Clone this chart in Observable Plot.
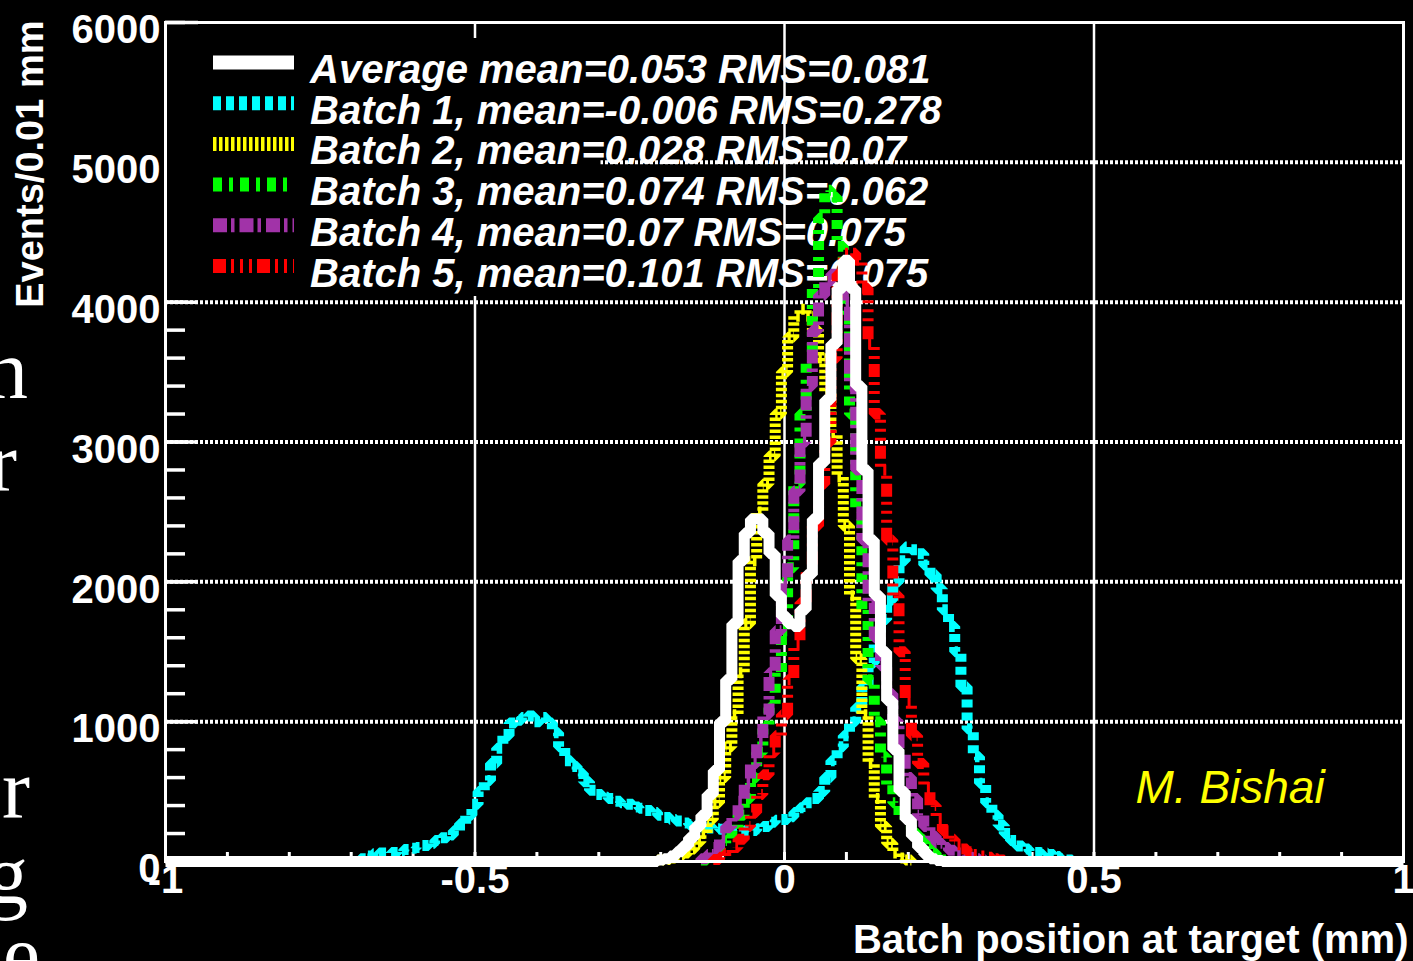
<!DOCTYPE html>
<html>
<head>
<meta charset="utf-8">
<script src="https://cdn.jsdelivr.net/npm/d3@7"></script>
<script src="https://cdn.jsdelivr.net/npm/@observablehq/plot@0.6"></script>
<style>
  html, body { margin: 0; padding: 0; background: #000; overflow: hidden; }
  #wrap { position: relative; width: 1413px; height: 961px; }
  .remnant { position: absolute; left: -300px; text-align: right; color: #fff;
             font-family: "Liberation Serif", "DejaVu Serif", serif; font-size: 84px; line-height: 0.5; white-space: nowrap; }
</style>
</head>
<body>
<div id="wrap"><div id="chart"></div></div>
<script>
// ---------------- data ----------------
const binWidth = 0.01;                 // Events / 0.01 mm
const xDomain = [-1, 1];
const yDomain = [0, 6000];

const xMajorTicks = [-1, -0.5, 0, 0.5, 1];
const xMinorTicks = d3.range(-10, 11).map(i => i / 10);
const yMajorTicks = [0, 1000, 2000, 3000, 4000, 5000, 6000];
const yMinorTicks = d3.range(0, 6001, 200);
const yGridTicks = [1000, 2000, 3000, 4000, 5000];
const xGridTicks = [-0.5, 0, 0.5];

// bin centres start at *Start, one count per 0.01 mm bin
const averageStart = -0.20;
const averageCounts = [10, 20, 40, 70, 110, 170, 250, 330, 480, 650,
  1000, 1300, 1700, 2150, 2350, 2450, 2450, 2350, 2200, 1900,
  1750, 1700, 1680, 1800, 2050, 2450, 2850, 3300, 3700, 4100,
  4300, 4100, 3400, 2800, 2300, 1900, 1500, 1150, 800, 500,
  300, 180, 100, 50, 20, 8];

const batch1Start = -0.68;
const batch1Counts = [20, 40, 55, 60, 60, 65, 75, 85, 95, 100,
  115, 130, 150, 170, 190, 220, 270, 330, 410, 500,
  580, 700, 810, 900, 990, 1010, 1030, 1040, 1000, 1030,
  990, 920, 820, 720, 680, 630, 570, 510, 480, 460,
  450, 430, 420, 410, 390, 380, 365, 350, 330, 315,
  300, 290, 275, 265, 255, 245, 240, 235, 230, 225,
  220, 215, 220, 222, 235, 250, 280, 295, 300, 320,
  350, 385, 420, 450, 500, 600, 720, 820, 900, 1000,
  1100, 1250, 1420, 1580, 1730, 1870, 2000, 2150, 2250, 2230,
  2200, 2120, 2050, 1950, 1800, 1680, 1500, 1250, 950, 750,
  560, 420, 330, 260, 200, 150, 110, 90, 75, 65,
  60, 50, 35, 20, 10];

const batch2Start = -0.20;
const batch2Counts = [10, 15, 25, 40, 60, 90, 140, 200, 300, 420,
  600, 820, 1050, 1350, 1700, 2150, 2500, 2700, 2900, 3200,
  3500, 3750, 3900, 3950, 3900, 3800, 3600, 3350, 3050, 2750,
  2400, 1900, 1450, 1050, 700, 450, 250, 130, 60, 25, 10];

const batch3Start = -0.13;
const batch3Counts = [10, 30, 60, 100, 150, 220, 330, 450, 600, 780,
  950, 1100, 1350, 1650, 2100, 2700, 3200, 3600, 4100, 4600,
  4800, 4750, 4400, 3900, 3200, 2500, 1800, 1300, 1000, 750,
  550, 420, 330, 260, 200, 160, 110, 60, 30, 10];

const batch4Start = -0.13;
const batch4Counts = [20, 50, 100, 170, 250, 330, 430, 560, 700, 850,
  1050, 1350, 1650, 2000, 2300, 2650, 3000, 3400, 3800, 4050,
  4150, 4200, 4150, 4000, 3400, 2800, 2300, 1850, 1600, 1400,
  1200, 1000, 780, 600, 450, 330, 250, 180, 130, 100,
  80, 60, 45, 30, 20, 10];

const batch5Start = -0.11;
const batch5Counts = [15, 30, 60, 100, 160, 250, 350, 480, 620, 780,
  900, 1050, 1300, 1550, 1850, 2100, 2400, 2700, 3000, 3600,
  4200, 4350, 4350, 4300, 4100, 3700, 3200, 2800, 2300, 1900,
  1500, 1150, 900, 700, 530, 400, 300, 220, 160, 120,
  90, 70, 50, 40, 30, 20, 10];

const seriesNames = ["Average", "Batch 1", "Batch 2", "Batch 3", "Batch 4", "Batch 5"];
const legendLabels = [
  "Average mean=0.053 RMS=0.081",
  "Batch 1, mean=-0.006 RMS=0.278",
  "Batch 2, mean=0.028 RMS=0.07",
  "Batch 3, mean=0.074 RMS=0.062",
  "Batch 4, mean=0.07 RMS=0.075",
  "Batch 5, mean=0.101 RMS=0.075"
];
const seriesColors = ["#ffffff", "#00ffff", "#ffff00", "#00ff00", "#a133a8", "#ff0000"];
const seriesDashes = [null, "8,5", "3.5,2.5", "9,7,4,7", "14,4,3.5,5", "13,5,3,6,3,6,3,5"];

const xTitle = "Batch position at target (mm)";
const yTitle = "Events/0.01 mm";
const author = "M. Bishai";

// ---------------- build ----------------
const starts = [averageStart, batch1Start, batch2Start, batch3Start, batch4Start, batch5Start];
const counts = [averageCounts, batch1Counts, batch2Counts, batch3Counts, batch4Counts, batch5Counts];

function histRows(k) {
  const s = starts[k], c = counts[k];
  const lo = s - binWidth / 2;
  const out = [];
  if (k === 0) out.push({x: xDomain[0], y: 0});
  out.push({x: lo, y: 0});
  c.forEach((v, i) => out.push({x: lo + i * binWidth, y: v}));
  out.push({x: lo + c.length * binWidth, y: 0});
  if (k === 0) out.push({x: xDomain[1], y: 0});
  return out;
}

const histMarks = [1, 2, 3, 4, 5, 0].map(k => Plot.line(histRows(k), {
  x: "x", y: "y", curve: "step-after",
  stroke: seriesColors[k], strokeWidth: 11,
  strokeDasharray: seriesDashes[k] || undefined,
  strokeLinejoin: "miter", strokeLinecap: "butt"
}));

function legendMark(index, scales, values, dims) {
  const g = d3.create("svg:g");
  g.append("rect").attr("x", dims.marginLeft + 1.5).attr("y", 38)
    .attr("width", 434).attr("height", 258).attr("fill", "#000");
  legendLabels.forEach((lab, i) => {
    const cy = 62.5 + i * 40.7;
    const line = g.append("line").attr("x1", 213).attr("x2", 294)
      .attr("y1", cy).attr("y2", cy)
      .attr("stroke", seriesColors[i]).attr("stroke-width", 14);
    if (seriesDashes[i]) line.attr("stroke-dasharray", seriesDashes[i]);
    g.append("text").attr("x", 310).attr("y", cy + 20.5)
      .attr("text-anchor", "start")
      .attr("fill", "#fff").attr("font-family", "'Liberation Sans', Arial, sans-serif")
      .attr("font-size", 40).attr("font-weight", "bold").attr("font-style", "italic")
      .text(lab);
  });
  return g.node();
}

const plot = Plot.plot({
  width: 1413,
  height: 961,
  marginLeft: 165,
  marginRight: 10,
  marginTop: 22,
  marginBottom: 100,
  x: {domain: xDomain, label: null},
  y: {domain: yDomain, label: null},
  style: {background: "#000", color: "#fff", fontFamily: "'Liberation Sans', Arial, sans-serif"},
  marks: [
    Plot.ruleY(yGridTicks, {stroke: "#fff", strokeWidth: 4, strokeDasharray: "3,2"}),
    Plot.ruleX(xGridTicks, {stroke: "#fff", strokeWidth: 2.5}),
    Plot.axisY(yMinorTicks, {tickSize: -20, tickFormat: () => "", strokeWidth: 3.5, stroke: "#fff", label: null}),
    Plot.axisY(yMajorTicks, {tickSize: -33, tickFormat: () => "", strokeWidth: 3.5, stroke: "#fff", label: null}),
    Plot.axisX(xMinorTicks, {tickSize: -9, tickFormat: () => "", strokeWidth: 3, stroke: "#fff", label: null}),
    legendMark,
    ...histMarks,
    Plot.frame({stroke: "#fff", strokeWidth: 3}),
    Plot.axisY(yMajorTicks, {tickSize: 0, tickPadding: 5, tickFormat: d => String(d), fontSize: 40, fontWeight: "bold", dy: 8, label: null}),
    Plot.axisX(xMajorTicks, {tickSize: 0, tickPadding: 3, tickFormat: d => String(d), fontSize: 40, fontWeight: "bold", label: null}),
    Plot.text([xTitle], {text: d => d, frameAnchor: "bottom-right", textAnchor: "end", lineAnchor: "middle",
      dx: 5, dy: 79, fontSize: 40, fontWeight: "bold", fill: "#fff"}),
    Plot.text([yTitle], {text: d => d, frameAnchor: "top-left", textAnchor: "end", lineAnchor: "middle",
      rotate: -90, dx: -135, dy: -2, fontSize: 38, fontWeight: "bold", fill: "#fff"}),
    Plot.text([author], {text: d => d, frameAnchor: "bottom-right", textAnchor: "start", lineAnchor: "middle",
      dx: -268, dy: -73, fontSize: 46, fontStyle: "italic", fill: "#ffff00"})
  ]
});
document.getElementById("chart").append(plot);

// fragments of neighbouring slide text cut by the left edge (top = baseline - 49)
const remnants = [["n", 349, 328], ["r", 441, 317], ["er", 768, 330], ["g", 854, 328], ["ne", 934, 340]];
const wrap = document.getElementById("wrap");
remnants.forEach(([t, top, w]) => {
  const d = document.createElement("div");
  d.className = "remnant";
  d.style.top = top + "px";
  d.style.width = w + "px";
  d.textContent = t;
  wrap.appendChild(d);
});
</script>
</body>
</html>
